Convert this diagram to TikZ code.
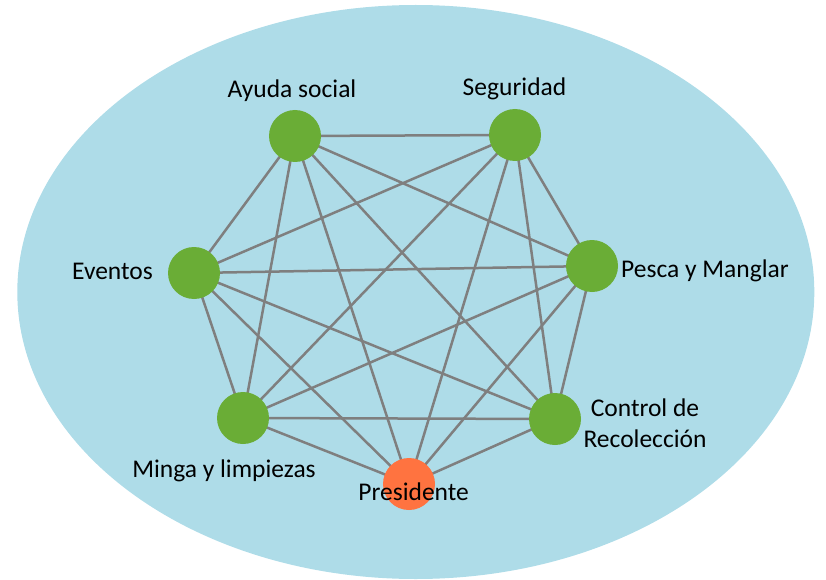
\documentclass[tikz,border=0pt]{standalone}
\usepackage{fontspec}
\setmainfont{Carlito}
\definecolor{bgblue}{HTML}{AEDCE8}
\definecolor{nodegreen}{HTML}{6AAD36}
\definecolor{nodeorange}{HTML}{FF7340}
\definecolor{edgegray}{HTML}{7F7F7F}
\pgfdeclarelayer{background}
\pgfsetlayers{background,main}
\begin{document}
\begin{tikzpicture}[x=1pt,y=-1pt,
  member/.style={circle,fill=nodegreen,minimum size=52pt,inner sep=0pt},
  chief/.style={circle,fill=nodeorange,minimum size=52pt,inner sep=0pt},
  lbl/.style={font=\fontsize{25.5}{31}\selectfont,inner sep=0pt,anchor=base,align=center},
  link/.style={draw=edgegray,line width=2.5pt}]
\useasboundingbox (0,0) rectangle (826,580);
% nodes
\node[member] (ayuda) at (295,136) {};
\node[member] (seg) at (515,135) {};
\node[member] (ev) at (194,273) {};
\node[member] (pesca) at (592,266) {};
\node[member] (minga) at (243,418) {};
\node[member] (ctrl) at (555,419) {};
\node[chief] (pres) at (409,484) {};
\begin{pgfonlayer}{background}
\fill[bgblue] (415.8,292) ellipse [x radius=398.5, y radius=287];
\foreach \a/\b in {ayuda/seg,ayuda/ev,ayuda/pesca,ayuda/minga,ayuda/ctrl,ayuda/pres,
  seg/ev,seg/pesca,seg/minga,seg/ctrl,seg/pres,
  ev/pesca,ev/minga,ev/ctrl,ev/pres,
  pesca/minga,pesca/ctrl,pesca/pres,
  minga/ctrl,minga/pres,ctrl/pres}
  \draw[link] (\a.center) -- (\b.center);
\end{pgfonlayer}
% labels
\node[lbl] (l1) at (292,98) {Ayuda social};
\node[lbl] (l2) at (514.5,96) {Seguridad};
\node[lbl] (l3) at (112.5,279) {Eventos};
\node[lbl] (l4) at (705,277) {Pesca y Manglar};
\node[lbl] (l5) at (224,477) {Minga y limpiezas};
\node[lbl] (l6) at (645,447) {Control de\\Recolección};
\node[lbl] (l7) at (413.6,500) {Presidente};
\end{tikzpicture}
\end{document}
